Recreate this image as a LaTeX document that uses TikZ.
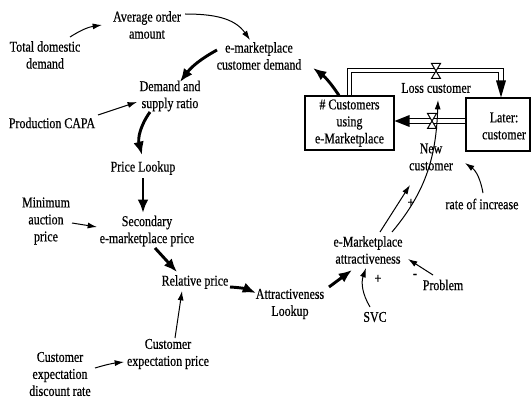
\documentclass[tikz,border=0pt]{standalone}
\usepackage{fontspec}
\setmainfont[FakeStretch=0.8,FakeBold=0.5]{Liberation Serif}
\usetikzlibrary{arrows.meta,calc}
\begin{document}
\begin{tikzpicture}[x=0.75pt,y=0.75pt,
  lbl/.style={inner sep=0pt, align=center, font=\fontsize{11.2}{12.75}\selectfont},
  stock/.style={draw, line width=0.8pt, inner sep=0pt, align=center, font=\fontsize{11.2}{12.75}\selectfont},
  bigarrow/.style={line width=2.2pt, -{Latex[length=10pt,width=8pt]}},
  smallarrow/.style={line width=0.75pt, -{Latex[length=7pt,width=4.5pt]}},
  pipe/.style={double, double distance=2.4pt, line width=0.75pt},
  valve/.style={draw, fill=white, line width=0.75pt, line join=miter}]
\path[use as bounding box] (0,0) rectangle (531,-399);

% text nodes
\node[lbl] (avg) at (147,-25) {Average order\\amount};
\node[lbl] (tdd) at (45,-55) {Total domestic\\demand};
\node[lbl] (emcd) at (259,-56) {e-marketplace\\customer demand};
\node[lbl] (dsr) at (170,-96) {Demand and\\supply ratio};
\node[lbl] (pcapa) at (52,-123) {Production CAPA};
\node[lbl] (plu) at (143,-168) {Price Lookup};
\node[lbl] (mini) at (46,-221) {Minimum\\auction\\price};
\node[lbl] (sec) at (147,-231) {Secondary\\e-marketplace price};
\node[lbl] (rel) at (195,-282) {Relative price};
\node[lbl] (alu) at (290,-304) {Attractiveness\\Lookup};
\node[lbl] (ema) at (368,-250) {e-Marketplace\\attractiveness};
\node[lbl] (svc) at (375,-317) {SVC};
\node[lbl] (prob) at (443,-285) {Problem};
\node[lbl] (rate) at (482,-204) {rate of increase};
\node[lbl] (newc) at (431,-157) {New\\customer};
\node[lbl] (loss) at (436,-88) {Loss customer};
\node[lbl] (cep) at (168,-354) {Customer\\expectation price};
\node[lbl] (cedr) at (60,-374) {Customer\\expectation\\discount rate};

% stocks
\node[stock, minimum width=66.75pt, minimum height=40.5pt] (box1) at (349.5,-123) {\# Customers\\using\\e-Marketplace};
\node[stock, minimum width=48pt, minimum height=39.75pt] (box2) at (498,-124.5) {};
\node[lbl] (box2txt) at (504,-126) {Later:\\customer};

% pipes
\draw[pipe] (box1.north) -- ++(0,25) -| ($(box2.north)+(3,16)$);
\fill ($(box2.north)+(3,0)$) -- ++(-5,17) -- ++(10,0) -- cycle;
\draw[pipe] ($(box2.west)+(0,3.5)$) -- ($(box1.east)+(13,2)$);
\fill ($(box1.east)+(0,2)$) -- ++(15,6) -- ++(0,-12) -- cycle;
\coordinate (v1) at (436,-71);
\coordinate (v2) at (432,-121);
\draw[valve] ($(v1)+(-4.5,7.5)$) -- ++(9,0) -- ++(-9,-15) -- ++(9,0) -- cycle;
\draw[valve] ($(v2)+(-4.5,7.5)$) -- ++(9,0) -- ++(-9,-15) -- ++(9,0) -- cycle;

% connectors
\draw[smallarrow] ($(tdd)+(25,18)$) to[bend left=12] ($(avg)+(-45,0)$);
\draw[smallarrow] ($(avg)+(38,11)$) to[out=0,in=125] ($(emcd)+(-9,16)$);
\draw[bigarrow] ($(emcd)+(-42,6)$) to[bend right=12] ($(dsr)+(10,14)$);
\draw[bigarrow] ($(box1.north)+(-10.5,0)$) to[bend right=10] ($(emcd)+(54,-12)$);
\draw[bigarrow] ($(dsr)+(-20,-16)$) to[bend right=25] ($(plu)+(-1,13)$);
\draw[smallarrow] ($(pcapa)+(46,8)$) -- ($(dsr)+(-33,-6)$);
\draw[bigarrow] ($(plu)+(0,-10)$) -- ($(sec)+(-4,18)$);
\draw[smallarrow] ($(mini)+(26,-2)$) -- ($(sec)+(-50,4)$);
\draw[bigarrow] ($(sec)+(8,-17)$) -- ($(rel)+(-18,10)$);
\draw[bigarrow] ($(rel)+(35,-5)$) to[bend left=10] ($(alu)+(-34,11)$);
\draw[bigarrow] ($(alu)+(39,17)$) -- ($(ema)+(-16,-20)$);
\draw[smallarrow] ($(cedr)+(35,6)$) to[bend left=5] ($(cep)+(-44,-8)$);
\draw[smallarrow] ($(cep)+(7,16)$) -- ($(rel)+(-13,-9)$);
\draw[smallarrow] ($(svc)+(-5,10)$) to[bend left=25] ($(ema)+(-2,-18)$);
\node[lbl] (plus1) at (378,-279) {+};
\draw[smallarrow] ($(prob)+(-10,10)$) -- ($(ema)+(40,-9)$);
\node[lbl] (minus1) at (415,-276) {-};
\draw[smallarrow] ($(ema)+(12,18)$) -- ($(newc)+(-21,-28)$);
\node[lbl] (plus2) at (411,-203) {+};
\draw[smallarrow] ($(ema)+(24,18)$) to[out=50,in=-92] ($(loss)+(2,-12)$);
\draw[smallarrow] ($(rate)+(1,11)$) to[out=100,in=-35] ($(newc)+(34,-6)$);
\end{tikzpicture}
\end{document}
